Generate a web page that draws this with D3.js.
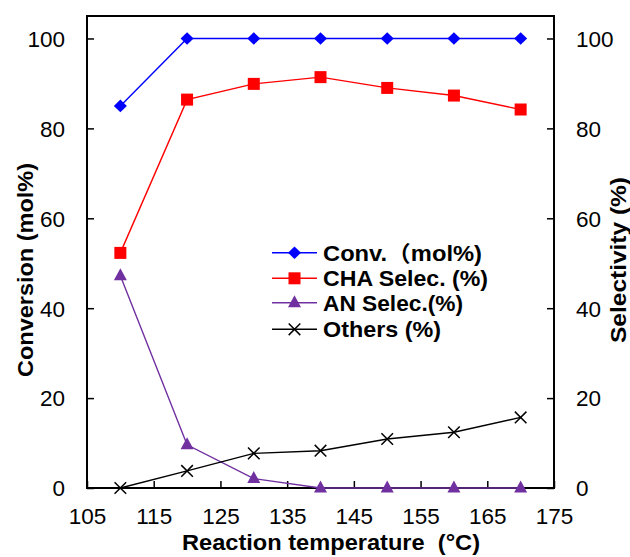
<!DOCTYPE html>
<html>
<head>
<meta charset="utf-8">
<script src="https://cdn.jsdelivr.net/npm/d3@7"></script>
<style>
  body { margin: 0; background: #fff; }
  svg { display: block; }
</style>
</head>
<body>
<svg id="chart" width="630" height="557"></svg>
<script>
// Reaction temperature (°C) and measured values
const temperatures = [110, 120, 130, 140, 150, 160, 170];
const conversion = [85, 100, 100, 100, 100, 100, 100];
const chaSelectivity = [52.3, 86.4, 89.9, 91.4, 89.0, 87.3, 84.2];
const anSelectivity = [47.2, 9.6, 2.1, 0, 0, 0, 0];
const otherSelectivity = [0, 3.8, 7.7, 8.3, 10.9, 12.4, 15.7];

const xTicks = [105, 115, 125, 135, 145, 155, 165, 175];
const yTicks = [0, 20, 40, 60, 80, 100];
const seriesNames = ["Conv.\uFF08mol%)", "CHA Selec. (%)", "AN Selec.(%)", "Others (%)"];

const FONT = "'Liberation Sans', Arial, 'Noto Sans CJK SC', sans-serif";

const svg = d3.select("#chart");
const plot = { left: 87, right: 554, top: 16, bottom: 488 };

const x = d3.scaleLinear().domain([105, 175]).range([plot.left, plot.right]);
const y = d3.scaleLinear().domain([0, 105]).range([plot.bottom, plot.top]);   // conversion axis
const y2 = d3.scaleLinear().domain([0, 105]).range([plot.bottom, plot.top]);  // selectivity axis

svg.append("rect").attr("width", 630).attr("height", 557).attr("fill", "#fff");

// Axes (ticks point into the plot)
function styleAxis(g) {
  g.select(".domain").remove();
  g.selectAll(".tick line").attr("stroke", "#000").attr("stroke-width", 1.5);
  g.selectAll(".tick text")
    .attr("fill", "#000")
    .style("font-family", FONT)
    .style("font-size", "22.5px");
}

svg.append("g")
  .attr("transform", `translate(0,${plot.bottom})`)
  .call(d3.axisBottom(x).tickValues(xTicks).tickFormat(d3.format("d"))
    .tickSizeInner(-7).tickSizeOuter(0).tickPadding(20))
  .call(styleAxis);

svg.append("g")
  .attr("transform", `translate(${plot.left},0)`)
  .call(d3.axisLeft(y).tickValues(yTicks).tickFormat(d3.format("d"))
    .tickSizeInner(-7).tickSizeOuter(0).tickPadding(22))
  .call(styleAxis)
  .call(g => g.selectAll(".tick text").attr("dy", "0.35em"));

svg.append("g")
  .attr("transform", `translate(${plot.right},0)`)
  .call(d3.axisRight(y2).tickValues(yTicks).tickFormat(d3.format("d"))
    .tickSizeInner(-7).tickSizeOuter(0).tickPadding(22))
  .call(styleAxis)
  .call(g => g.selectAll(".tick text").attr("dy", "0.35em"));

// Plot frame
svg.append("rect")
  .attr("x", plot.left).attr("y", plot.top)
  .attr("width", plot.right - plot.left).attr("height", plot.bottom - plot.top)
  .attr("fill", "none").attr("stroke", "#000").attr("stroke-width", 2);

// Axis titles
svg.append("text")
  .attr("x", 331).attr("y", 550)
  .attr("text-anchor", "middle")
  .attr("textLength", 298).attr("lengthAdjust", "spacingAndGlyphs")
  .style("white-space", "pre")
  .style("font-family", FONT).style("font-weight", "bold").style("font-size", "22px")
  .text("Reaction temperature  (\u00B0C)");

svg.append("text")
  .attr("transform", "translate(33,270) rotate(-90)")
  .attr("text-anchor", "middle")
  .attr("textLength", 214).attr("lengthAdjust", "spacingAndGlyphs")
  .style("font-family", FONT).style("font-weight", "bold").style("font-size", "22px")
  .text("Conversion (mol%)");

svg.append("text")
  .attr("transform", "translate(626,260) rotate(-90)")
  .attr("text-anchor", "middle")
  .attr("textLength", 166).attr("lengthAdjust", "spacingAndGlyphs")
  .style("font-family", FONT).style("font-weight", "bold").style("font-size", "22px")
  .text("Selectivity (%)");

// Marker shapes
const markers = {
  diamond: (g, color) => g.append("path").attr("d", "M0,-6.3L6.5,0L0,6.3L-6.5,0Z").attr("fill", color),
  square: (g, color) => g.append("rect").attr("x", -6).attr("y", -6).attr("width", 12).attr("height", 12).attr("fill", color),
  triangle: (g, color) => g.append("path").attr("d", "M0,-7.5L6.5,4.5L-6.5,4.5Z").attr("fill", color),
  cross: (g, color) => g.append("path").attr("d", "M-5.8,-5.8L5.8,5.8M-5.8,5.8L5.8,-5.8")
    .attr("stroke", color).attr("stroke-width", 1.5).attr("fill", "none")
};

const series = [
  { name: seriesNames[0], values: conversion, scale: y, color: "#0000FF", marker: "diamond", textLen: 159 },
  { name: seriesNames[1], values: chaSelectivity, scale: y2, color: "#FF0000", marker: "square", textLen: 165 },
  { name: seriesNames[2], values: anSelectivity, scale: y2, color: "#7030A0", marker: "triangle", textLen: 140 },
  { name: seriesNames[3], values: otherSelectivity, scale: y2, color: "#000000", marker: "cross", textLen: 118 }
];

series.forEach(s => {
  const pts = temperatures.map((t, i) => [t, s.values[i]]);
  const line = d3.line().x(d => x(d[0])).y(d => s.scale(d[1]));
  svg.append("path")
    .datum(pts)
    .attr("d", line)
    .attr("fill", "none")
    .attr("stroke", s.color)
    .attr("stroke-width", 1.4);
  const mg = svg.append("g");
  pts.forEach(p => {
    const g = mg.append("g").attr("transform", `translate(${x(p[0])},${s.scale(p[1])})`);
    markers[s.marker](g, s.color);
  });
});

// Legend
const legendRows = [252.7, 278.3, 302.7, 329.3];
const legend = svg.append("g");
series.forEach((s, i) => {
  const row = legend.append("g").attr("transform", `translate(0,${legendRows[i]})`);
  row.append("line").attr("x1", 272).attr("x2", 317).attr("y1", 0).attr("y2", 0)
    .attr("stroke", s.color).attr("stroke-width", 1.4);
  const mg = row.append("g").attr("transform", "translate(294.5,0)");
  markers[s.marker](mg, s.color);
  row.append("text")
    .attr("x", 323).attr("y", 0).attr("dy", "0.36em")
    .attr("textLength", s.textLen).attr("lengthAdjust", "spacingAndGlyphs")
    .style("font-family", FONT).style("font-weight", "bold").style("font-size", "22px")
    .text(s.name);
});
</script>
</body>
</html>
